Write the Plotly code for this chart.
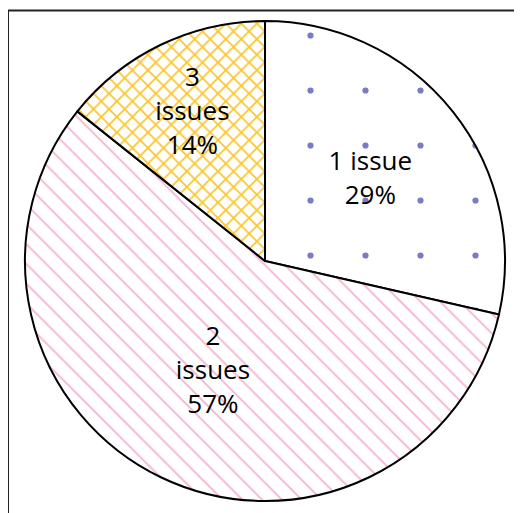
import plotly.graph_objects as go

# the page body adds 8px around the figure
W, H = 514, 505

labels = ["1 issue", "2 issues", "3 issues"]
label_text = ["1 issue", "2<br>issues", "3<br>issues"]
counts = [2, 4, 1]

pattern_shapes = [".", "\\", "x"]
pattern_fg = ["#7a7ac8", "#f8b2d2", "#fbc52a"]
pattern_size = [55, 14, 11]
pattern_solidity = [0.01, 0.13, 0.28]

fig = go.Figure(
    go.Pie(
        labels=labels,
        values=counts,
        text=label_text,
        texttemplate="%{text}<br>%{percent:.0%}",
        textposition="inside",
        insidetextorientation="horizontal",
        sort=False,
        direction="clockwise",
        rotation=0,
        hoverinfo="label+percent",
        textfont={"family": "Open Sans, sans-serif", "size": 26, "color": "black"},
        marker={
            "colors": ["white", "white", "white"],
            "line": {"color": "black", "width": 2},
            "pattern": {
                "shape": pattern_shapes,
                "fgcolor": pattern_fg,
                "fgopacity": 1,
                "bgcolor": "white",
                "size": pattern_size,
                "solidity": pattern_solidity,
                "fillmode": "overlay",
            },
        },
        domain={"x": [17 / W, 497 / W], "y": [1 - 493 / H, 1 - 13 / H]},
    )
)

# outer frame, only its top and left edges fall inside the picture
fig.add_shape(
    type="rect",
    xref="paper",
    yref="paper",
    x0=0,
    x1=1.2,
    y0=-0.2,
    y1=1 - 2.5 / H,
    line={"color": "#222", "width": 2},
)

fig.update_layout(
    width=W,
    height=H,
    margin={"l": 0, "r": 0, "t": 0, "b": 0},
    showlegend=False,
    paper_bgcolor="white",
    plot_bgcolor="white",
    uniformtext={"minsize": 26, "mode": "show"},
)

fig.write_html("out.html")
